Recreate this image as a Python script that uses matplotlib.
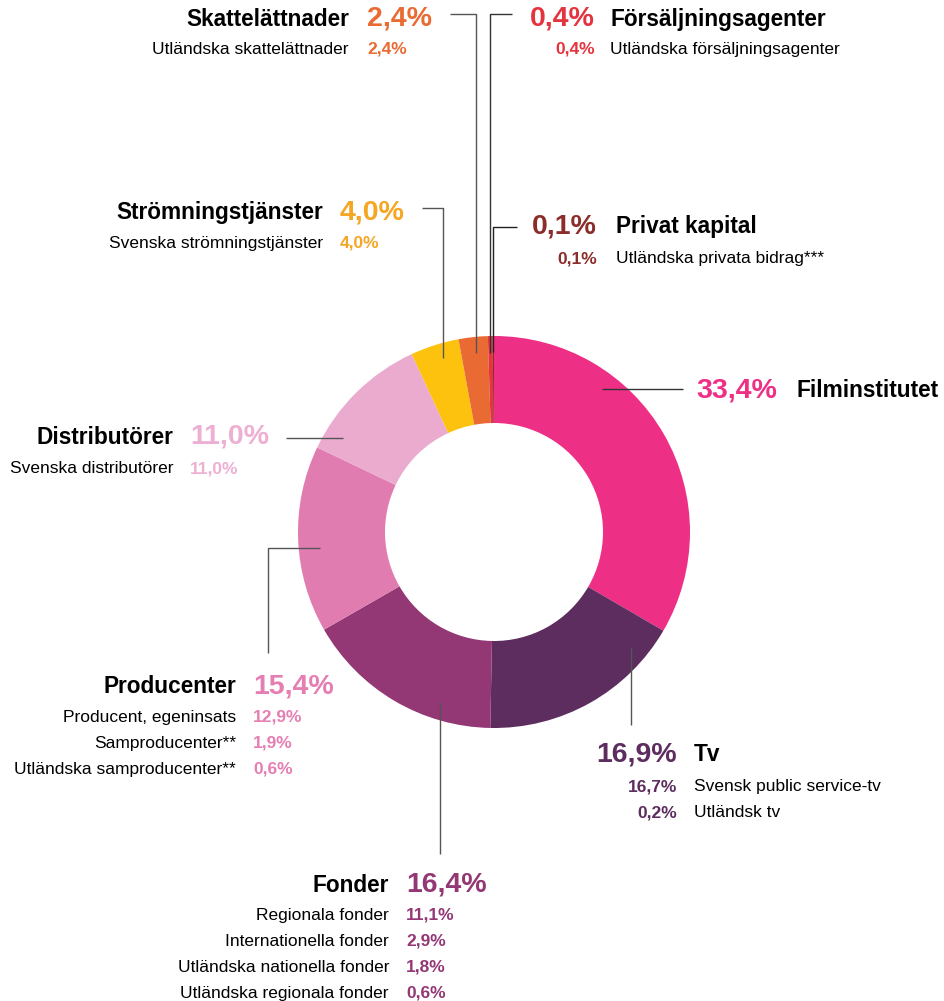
import matplotlib
matplotlib.use('Agg')
import matplotlib.pyplot as plt

# --- data -------------------------------------------------------------
groups = ['Filminstitutet', 'Tv', 'Fonder', 'Producenter', 'Distributörer',
          'Strömningstjänster', 'Skattelättnader', 'Försäljningsagenter',
          'Privat kapital']
shares = [33.4, 16.9, 16.4, 15.4, 11.0, 4.0, 2.4, 0.4, 0.1]

slice_colors = ['#EE2F86', '#5C2D5E', '#943775', '#E07CB0', '#EAABCF',
                '#FCC20E', '#EA6A33', '#E4343F', '#8B2D2A']
text_colors = ['#EE2F86', '#5C2D5E', '#943775', '#E57EB3', '#EDAFD2',
               '#F5A623', '#EA6A33', '#E4343F', '#8B2D2A']

tv_items = ['Svensk public service-tv', 'Utländsk tv']
tv_values = [16.7, 0.2]
fonder_items = ['Regionala fonder', 'Internationella fonder',
                'Utländska nationella fonder', 'Utländska regionala fonder']
fonder_values = [11.1, 2.9, 1.8, 0.6]
producenter_items = ['Producent, egeninsats', 'Samproducenter**',
                     'Utländska samproducenter**']
producenter_values = [12.9, 1.9, 0.6]
distributorer_items = ['Svenska distributörer']
distributorer_values = [11.0]
stromning_items = ['Svenska strömningstjänster']
stromning_values = [4.0]
skatt_items = ['Utländska skattelättnader']
skatt_values = [2.4]
forsaljning_items = ['Utländska försäljningsagenter']
forsaljning_values = [0.4]
privat_items = ['Utländska privata bidrag***']
privat_values = [0.1]

sub_items = [([], []), (tv_items, tv_values), (fonder_items, fonder_values),
             (producenter_items, producenter_values),
             (distributorer_items, distributorer_values),
             (stromning_items, stromning_values), (skatt_items, skatt_values),
             (forsaljning_items, forsaljning_values),
             (privat_items, privat_values)]


def pct(v):
    return ('%.1f' % v).replace('.', ',') + '%'


plt.rcParams['font.family'] = ['Liberation Sans', 'DejaVu Sans']

W, H = 945, 1001
fig = plt.figure(figsize=(W / 100, H / 100), dpi=100)
ax = fig.add_axes([0, 0, 1, 1])

# donut; y axis is flipped below, so counterclock=True reads clockwise on screen
cx, cy, r_out, r_in = 494, 532, 196, 109
ax.pie(shares, colors=slice_colors, startangle=-90, counterclock=True,
       center=(cx, cy), radius=r_out,
       wedgeprops=dict(width=r_out - r_in, linewidth=0))

ax.set_xlim(0, W)
ax.set_ylim(H, 0)
ax.set_aspect('auto')
ax.axis('off')

# --- labels -----------------------------------------------------------
# (x_a, x_b, baseline of title row, baseline of first sub row, sub spacing,
#  name_first)
layout = {
    'Filminstitutet':      (777, 796, 397, None, 0, False),
    'Tv':                  (677, 694, 761, 791, 26, False),
    'Fonder':              (389, 406, 892, 920, 26, True),
    'Producenter':         (236, 253, 693, 722, 26, True),
    'Distributörer':       (173, 190, 444, 473, 26, True),
    'Strömningstjänster':  (323, 340, 219, 248, 26, True),
    'Skattelättnader':     (349, 367, 26, 54, 26, True),
    'Försäljningsagenter': (595, 610, 26, 54, 26, False),
    'Privat kapital':      (597, 616, 233, 263, 26, False),
}

big_size, title_size, sub_size = 20.5, 16.3, 12.5

for i, name in enumerate(groups):
    xa, xb, yt, ys, dy, name_first = layout[name]
    col = text_colors[i]
    if name_first:
        ax.text(xa, yt, name, ha='right', va='baseline', fontsize=title_size,
                fontweight='bold', color='black')
        ax.text(xb, yt, pct(shares[i]), ha='left', va='baseline',
                fontsize=big_size, fontweight='bold', color=col)
    else:
        ax.text(xa, yt, pct(shares[i]), ha='right', va='baseline',
                fontsize=big_size, fontweight='bold', color=col)
        ax.text(xb, yt, name, ha='left', va='baseline', fontsize=title_size,
                fontweight='bold', color='black')
    items, vals = sub_items[i]
    for k, (it, v) in enumerate(zip(items, vals)):
        y = ys + k * dy
        if name_first:
            ax.text(xa, y, it, ha='right', va='baseline', fontsize=sub_size,
                    color='black')
            ax.text(xb, y, pct(v), ha='left', va='baseline', fontsize=sub_size,
                    fontweight='bold', color=col)
        else:
            ax.text(xa, y, pct(v), ha='right', va='baseline', fontsize=sub_size,
                    fontweight='bold', color=col)
            ax.text(xb, y, it, ha='left', va='baseline', fontsize=sub_size,
                    color='black')

# leader lines
leaders = [
    ([602, 683], [389, 389], '#333333'),
    ([631, 631], [647, 725], '#555555'),
    ([440, 440], [702, 854], '#555555'),
    ([320, 268, 268], [548, 548, 653], '#555555'),
    ([343, 286], [438, 438], '#555555'),
    ([443, 443, 422], [358, 208, 208], '#555555'),
    ([476, 476, 450], [353, 14, 14], '#555555'),
    ([490, 490, 512], [353, 14, 14], '#333333'),
    ([493, 493, 517], [352, 227, 227], '#222222'),
]
for xs, ys_, c in leaders:
    ax.plot(xs, ys_, color=c, lw=1.0, solid_capstyle='butt')

fig.savefig('out.png', dpi=100)
